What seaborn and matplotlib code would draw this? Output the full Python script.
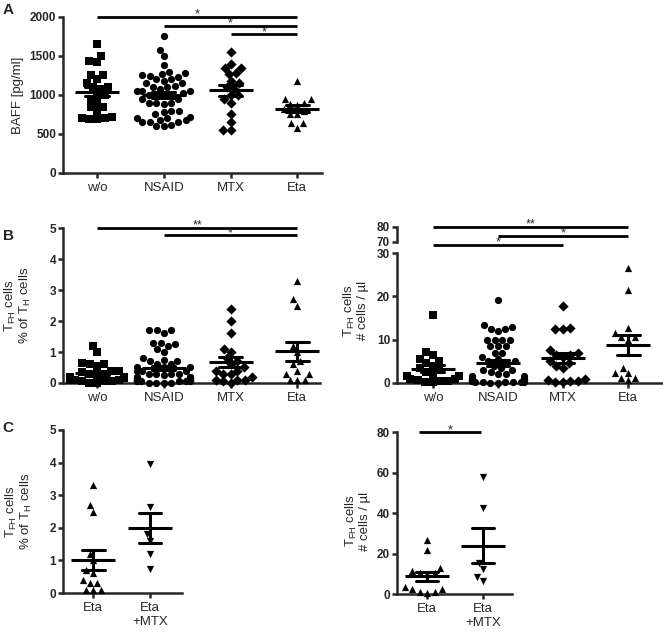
import warnings
import numpy as np
import pandas as pd
import matplotlib
matplotlib.use('Agg')
import matplotlib.pyplot as plt
import seaborn as sns

warnings.filterwarnings('ignore')

# --- panel A: BAFF [pg/ml]
baff_wo = [1650, 1500, 1430, 1420, 1260, 1250, 1200, 1150, 1100, 1100, 1080, 1000,
           1000, 950, 900, 850, 850, 800, 720, 710, 700, 690, 690]
baff_nsaid = [1750, 1580, 1500, 1380, 1300, 1280, 1270, 1250, 1240, 1230, 1200, 1200,
              1180, 1150, 1150, 1120, 1100, 1100, 1080, 1050, 1050, 1020, 1000, 1000,
              1050, 950, 950, 1000, 900, 880, 900, 900, 800, 800, 780, 750, 720, 700,
              700, 680, 650, 650, 620, 600, 680, 600, 650, 1000]
baff_mtx = [1550, 1400, 1350, 1350, 1280, 1270, 1180, 1150, 1100, 1080, 1000, 1000,
            950, 900, 750, 650, 550, 550]
baff_eta = [1180, 950, 950, 900, 880, 870, 820, 800, 760, 750, 640, 640, 580]

# --- panel B left: TFH % of TH cells
pct_wo = [1.2, 1.0, 0.65, 0.6, 0.6, 0.55, 0.4, 0.4, 0.35, 0.3, 0.3, 0.25, 0.2, 0.2,
          0.2, 0.15, 0.1, 0.1, 0.1, 0.05, 0.05, 0.05, 0.0, 0.0]
pct_nsaid = [1.7, 1.7, 1.7, 1.6, 1.3, 1.3, 1.25, 1.2, 1.1, 1.0, 0.8, 0.75, 0.7, 0.7,
             0.6, 0.6, 0.5, 0.5, 0.5, 0.4, 0.4, 0.4, 0.3, 0.3, 0.3, 0.3, 0.25, 0.2,
             0.2, 0.2, 0.2, 0.15, 0.1, 0.1, 0.1, 0.1, 0.1, 0.05, 0.05, 0.05, 0.0, 0.0,
             0.05, 0.05, 0.1, 0.1, 0.0, 0.0, 0.15, 0.05]
pct_mtx = [2.4, 2.0, 1.6, 1.1, 1.0, 0.8, 0.7, 0.6, 0.5, 0.4, 0.4, 0.3, 0.3, 0.2, 0.1,
           0.1, 0.1, 0.05, 0.0]
pct_eta = [3.3, 2.7, 2.5, 1.2, 1.0, 0.7, 0.6, 0.4, 0.3, 0.3, 0.1, 0.1, 0.1]
pct_eta_mtx = [3.95, 2.65, 1.8, 1.6, 1.2, 0.75]

# --- panel B right: TFH # cells / µl
abs_wo = [15.7, 7.2, 6.5, 5.5, 5.0, 4.5, 4.0, 3.5, 3.0, 2.5, 2.0, 1.5, 1.5, 1.0, 1.0,
          0.8, 0.5, 0.5, 0.3, 0.2]
abs_nsaid = [19.2, 13.3, 13.0, 12.5, 12.5, 12.0, 10.0, 10.0, 10.0, 10.0, 8.5, 8.5, 8.5,
             7.0, 7.0, 6.0, 5.5, 5.0, 5.0, 4.5, 4.0, 3.5, 3.0, 3.0, 2.5, 2.0, 2.0, 1.5,
             1.5, 1.0, 1.0, 1.0, 0.8, 0.5, 0.5, 0.5, 0.3, 0.3, 0.2, 0.2, 0.1, 0.1,
             0.5, 0.3, 0.2, 0.8, 1.0]
abs_mtx = [17.7, 12.8, 12.5, 12.5, 7.5, 7.0, 6.5, 6.0, 6.5, 5.0, 4.5, 4.0, 3.5, 1.0,
           0.8, 0.5, 0.5, 0.3, 0.2]
abs_eta = [26.5, 21.5, 12.8, 11.5, 10.5, 10.0, 10.5, 3.5, 2.3, 2.3, 1.2, 1.2, 0.6]
abs_eta_mtx = [58, 42.5, 15.5, 12.5, 8.5, 6.5]

groups = ['w/o', 'NSAID', 'MTX', 'Eta']
groups_c = ['Eta', 'Eta\n+MTX']
markers = {'w/o': 's', 'NSAID': 'o', 'MTX': 'D', 'Eta': '^', 'Eta\n+MTX': 'v'}

sns.set_style('ticks')
plt.rcParams['font.family'] = ['Liberation Sans', 'DejaVu Sans']
plt.rcParams['mathtext.fontset'] = 'custom'
plt.rcParams['mathtext.rm'] = 'Liberation Sans'
plt.rcParams['mathtext.it'] = 'Liberation Sans:italic'
plt.rcParams['mathtext.bf'] = 'Liberation Sans:bold'


def make_df(series):
    rows = [(g, v) for g, vals in series.items() for v in vals]
    return pd.DataFrame(rows, columns=['group', 'value'])


def column_scatter(ax, df, order, size=5.2, mean_w=31, cap=0.35):
    for g in order:
        sub = df[df['group'] == g]
        sns.swarmplot(data=sub, x='group', y='value', order=order, marker=markers[g],
                      color='black', size=size, ax=ax)
    sns.pointplot(data=df, x='group', y='value', order=order, errorbar='se',
                  capsize=cap, color='black', linestyle='none', marker='_',
                  markersize=mean_w, markeredgewidth=2.2, err_kws={'linewidth': 2.2}, ax=ax)
    for c in ax.collections:
        c.set_clip_on(False)
    for l in ax.lines:
        l.set_clip_on(False)


def style(ax, xlim, ylim, yticks, bottom=True):
    ax.set_xlim(xlim)
    ax.set_ylim(ylim)
    ax.set_yticks(yticks)
    ax.set_yticklabels([str(t) for t in yticks], fontweight='bold', fontsize=8.5)
    sns.despine(ax=ax)
    ax.spines['left'].set_linewidth(1.8)
    ax.spines['bottom'].set_linewidth(1.8)
    ax.tick_params(axis='both', width=1.8, length=3.5, pad=1.5)
    ax.tick_params(axis='x', labelsize=9.5, pad=3)
    ax.set_xlabel('')
    ax.set_ylabel('')
    if not bottom:
        ax.spines['bottom'].set_visible(False)
        ax.set_xticks([])


def sig(ax, x0, x1, y, label):
    ax.plot([x0, x1], [y, y], color='black', lw=2.0, clip_on=False, solid_capstyle='butt')
    ax.annotate(label, xy=((x0 + x1) / 2, y), xytext=(0, 1.5), textcoords='offset points',
                ha='center', va='center', fontsize=9, annotation_clip=False)


fig = plt.figure(figsize=(6.63, 6.36), dpi=100)

lab_tfh_pct = 'T$_{\\mathrm{FH}}$ cells\n% of T$_{\\mathrm{H}}$ cells'
lab_tfh_abs = 'T$_{\\mathrm{FH}}$ cells\n# cells / µl'

# A
axA = fig.add_axes([0.0950, 0.7280, 0.3906, 0.2453])
column_scatter(axA, make_df(dict(zip(groups, [baff_wo, baff_nsaid, baff_mtx, baff_eta]))), groups)
style(axA, (-0.51, 3.37), (0, 2000), [0, 500, 1000, 1500, 2000])
axA.set_ylabel('BAFF [pg/ml]', fontsize=9.5)
axA.yaxis.set_label_coords(-0.15, 0.5)
sig(axA, 0, 3, 2000, '*')
sig(axA, 1, 3, 1890, '*')
sig(axA, 2, 3, 1780, '*')

# B left
axB1 = fig.add_axes([0.0950, 0.3978, 0.3876, 0.2437])
column_scatter(axB1, make_df(dict(zip(groups, [pct_wo, pct_nsaid, pct_mtx, pct_eta]))), groups)
style(axB1, (-0.51, 3.34), (0, 5), [0, 1, 2, 3, 4, 5])
axB1.set_ylabel(lab_tfh_pct, fontsize=9.5, linespacing=1.0)
axB1.yaxis.set_label_coords(-0.115, 0.5)
sig(axB1, 0, 3, 5.0, '**')
sig(axB1, 1, 3, 4.77, '*')

# B right (broken axis)
axB2 = fig.add_axes([0.5988, 0.3978, 0.3997, 0.2044])
column_scatter(axB2, make_df(dict(zip(groups, [abs_wo, abs_nsaid, abs_mtx, abs_eta]))), groups)
style(axB2, (-0.55, 3.52), (0, 30), [0, 10, 20, 30])
axB2.set_ylabel(lab_tfh_abs, fontsize=9.5, linespacing=1.0)
axB2.yaxis.set_label_coords(-0.105, 0.56)
axB2u = fig.add_axes([0.5988, 0.6195, 0.3997, 0.0236])
style(axB2u, (-0.55, 3.52), (70, 80), [70, 80], bottom=False)
sig(axB2u, 0, 3, 80, '**')
sig(axB2u, 1, 3, 74, '*')
sig(axB2u, 0, 2, 68, '*')

# C left
axC1 = fig.add_axes([0.0950, 0.0676, 0.1795, 0.2563])
column_scatter(axC1, make_df(dict(zip(groups_c, [pct_eta, pct_eta_mtx]))), groups_c,
               mean_w=32, cap=0.4)
style(axC1, (-0.53, 1.56), (0, 5), [0, 1, 2, 3, 4, 5])
axC1.set_ylabel(lab_tfh_pct, fontsize=9.5, linespacing=1.0)
axC1.yaxis.set_label_coords(-0.245, 0.5)

# C right
axC2 = fig.add_axes([0.5988, 0.0660, 0.1735, 0.2547])
column_scatter(axC2, make_df(dict(zip(groups_c, [abs_eta, abs_eta_mtx]))), groups_c,
               mean_w=32, cap=0.4)
style(axC2, (-0.54, 1.52), (0, 80), [0, 20, 40, 60, 80])
axC2.set_ylabel(lab_tfh_abs, fontsize=9.5, linespacing=1.0)
axC2.yaxis.set_label_coords(-0.225, 0.45)
sig(axC2, -0.14, 0.96, 80, '*')

for letter, y in [('A', 3), ('B', 229), ('C', 421)]:
    fig.text(0.004, 1 - y / 636, letter, fontsize=11, fontweight='bold', va='top', ha='left')

fig.savefig('out.png', dpi=100)
